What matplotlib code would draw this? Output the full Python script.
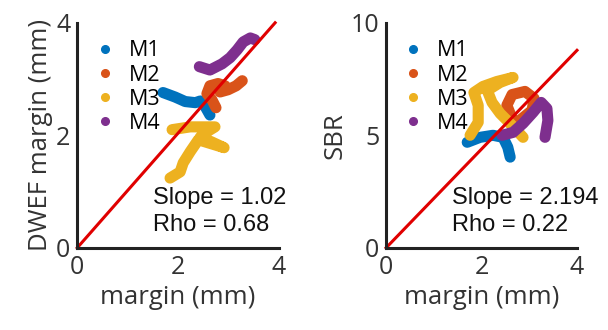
import matplotlib.pyplot as plt

plt.rcParams['font.family'] = ['Open Sans', 'DejaVu Sans']

# series colours (MATLAB-style defaults)
colors = ['#0072BD', '#D95319', '#EDB120', '#7E2F8E']
names = ['M1', 'M2', 'M3', 'M4']

# left panel: DWEF margin vs margin (mm)
m1_x = [1.70, 1.94, 2.14, 2.34, 2.44, 2.53, 2.63]
m1_y = [2.76, 2.68, 2.60, 2.58, 2.61, 2.52, 2.36]
m2_x = [2.75, 2.67, 2.57, 2.63, 2.79, 2.93, 2.83, 2.99, 3.15, 3.27]
m2_y = [2.49, 2.63, 2.74, 2.88, 2.92, 2.88, 2.77, 2.81, 2.88, 2.97]
m3_x = [1.88, 2.24, 2.73, 2.53, 2.44, 2.67, 2.91, 2.40, 2.24, 2.10, 2.04, 1.84]
m3_y = [2.10, 2.15, 2.15, 2.04, 1.97, 1.88, 1.78, 1.92, 1.71, 1.51, 1.35, 1.24]
m4_x = [2.42, 2.63, 2.87, 3.03, 3.17, 3.29, 3.43, 3.52]
m4_y = [3.22, 3.16, 3.27, 3.38, 3.52, 3.66, 3.73, 3.70]

# right panel: SBR vs margin (mm)
s1_x = [1.70, 1.97, 2.24, 2.45, 2.55, 2.60]
s1_y = [4.69, 4.91, 5.00, 4.91, 4.47, 4.03]
s2_x = [2.64, 2.53, 2.64, 2.91, 3.10, 3.06, 2.85, 2.64]
s2_y = [5.75, 6.33, 6.81, 6.95, 6.64, 6.11, 5.75, 5.40]
s3_x = [1.76, 1.93, 1.93, 1.84, 2.03, 2.32, 2.66, 2.39, 2.12, 2.22, 2.39, 2.64, 2.87]
s3_y = [5.00, 5.58, 6.33, 6.90, 7.17, 7.39, 7.57, 7.35, 6.99, 6.46, 5.97, 5.44, 4.91]
s4_x = [2.43, 2.66, 2.87, 3.08, 3.25, 3.37, 3.39, 3.33]
s4_y = [5.00, 5.13, 5.53, 6.02, 6.46, 6.19, 5.66, 4.91]

slopes = [1.02, 2.194]
rhos = [0.68, 0.22]

panels = [
    dict(xs=[m1_x, m2_x, m3_x, m4_x], ys=[m1_y, m2_y, m3_y, m4_y],
         ylim=4, yticks=[0, 2, 4], ylabel='DWEF margin (mm)',
         rect=[0.127, 0.249, 0.332, 0.682], txt=(1.5, 0.89, 0.41)),
    dict(xs=[s1_x, s2_x, s3_x, s4_x], ys=[s1_y, s2_y, s3_y, s4_y],
         ylim=10, yticks=[0, 5, 10], ylabel='SBR',
         rect=[0.635, 0.249, 0.314, 0.682], txt=(1.38, 2.22, 1.03)),
]

fig = plt.figure(figsize=(6.08, 3.30), dpi=100)

for k, p in enumerate(panels):
    ax = fig.add_axes(p['rect'])
    for xs, ys, c, n in zip(p['xs'], p['ys'], colors, names):
        ax.plot(xs, ys, color=c, lw=8, solid_capstyle='round',
                solid_joinstyle='round')
        ax.plot([], [], 'o', color=c, ms=5.5, label=n)
    s = slopes[k]
    x_end = min(4, p['ylim'] / s)
    ax.plot([0, x_end], [0, s * x_end], color='#E00000', lw=2.2, clip_on=False)

    ax.set_xlim(0, 4)
    ax.set_ylim(0, p['ylim'])
    ax.set_xticks([0, 2, 4])
    ax.set_yticks(p['yticks'])
    for side in ['top', 'right']:
        ax.spines[side].set_visible(False)
    for side in ['left', 'bottom']:
        ax.spines[side].set_linewidth(2.2)
        ax.spines[side].set_color('#222222')
    ax.tick_params(length=0, labelsize=18, labelcolor='#333333', pad=5)
    ax.set_xlabel('margin (mm)', fontsize=18.5, color='#333333', labelpad=4)
    ax.set_ylabel(p['ylabel'], fontsize=18.5, color='#333333', labelpad=2)

    tx, ty1, ty2 = p['txt']
    ax.text(tx, ty1, f'Slope = {slopes[k]}', fontsize=17,
            family=['Liberation Sans'], va='center', color='#111111')
    ax.text(tx, ty2, f'Rho = {rhos[k]}', fontsize=17,
            family=['Liberation Sans'], va='center', color='#111111')

    ax.legend(loc='upper left', bbox_to_anchor=(0.03, 0.97), frameon=False,
              fontsize=15.5, handlelength=1.0, handletextpad=0.6,
              labelspacing=0.15, borderpad=0)

fig.savefig('out.png', dpi=100)
